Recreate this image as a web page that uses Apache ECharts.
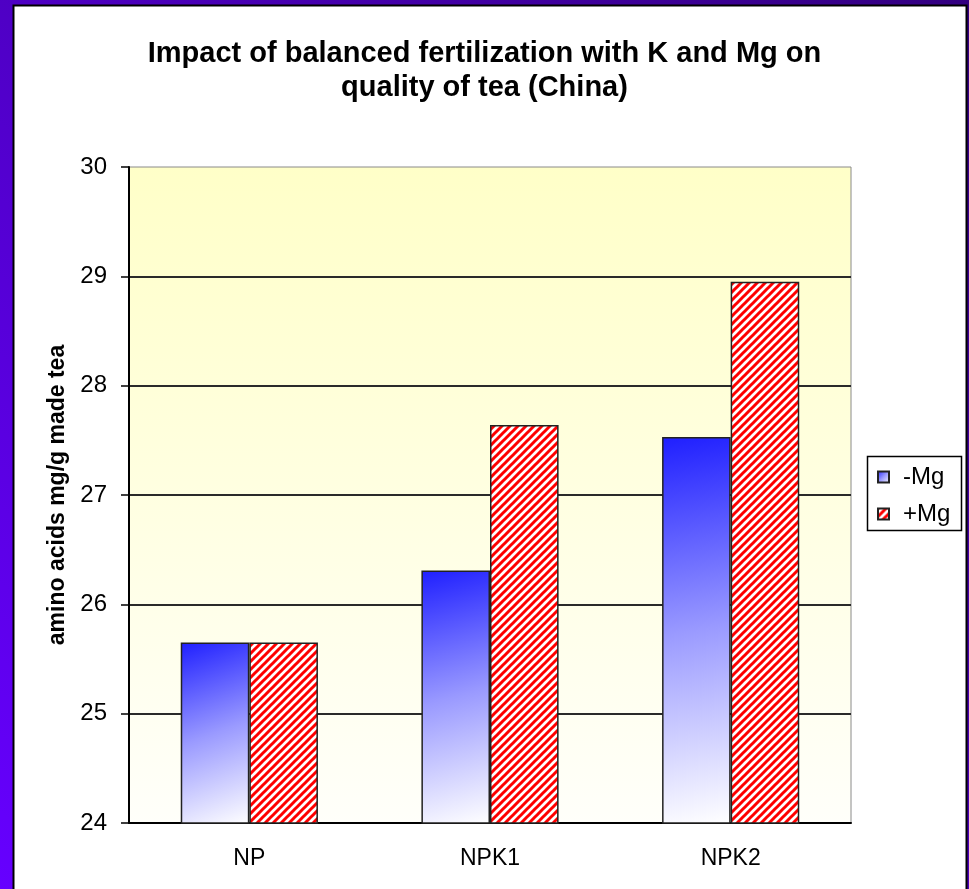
<!DOCTYPE html>
<html>
<head>
<meta charset="utf-8">
<script src="https://cdn.jsdelivr.net/npm/echarts@6/dist/echarts.min.js"></script>
<style>
  html, body { margin: 0; padding: 0; }
  #chart { width: 969px; height: 889px; }
</style>
</head>
<body>
<div id="chart"></div>
<script>
const categories = ['NP', 'NPK1', 'NPK2'];
const minusMg = [25.65, 26.31, 27.53];
const plusMg = [25.65, 27.64, 28.95];
const yTicks = [24, 25, 26, 27, 28, 29, 30];

const FONT = 'Liberation Sans, Arial, sans-serif';

// red/white diagonal stripes for the +Mg bars
const stripes = () => {
  const c = document.createElement('canvas');
  c.width = 8; c.height = 8;
  const ctx = c.getContext('2d');
  ctx.fillStyle = '#fff';
  ctx.fillRect(0, 0, 8, 8);
  ctx.strokeStyle = '#ff0000';
  ctx.lineWidth = 3;
  ctx.beginPath();
  ctx.moveTo(-4, 4); ctx.lineTo(4, -4);
  ctx.moveTo(0, 8); ctx.lineTo(8, 0);
  ctx.moveTo(4, 12); ctx.lineTo(12, 4);
  ctx.stroke();
  return c;
};

const blueFill = new echarts.graphic.LinearGradient(0, 0, 1, 1, [
  { offset: 0, color: '#1f1fff' },
  { offset: 0.5, color: '#9a9aff' },
  { offset: 1, color: '#ffffff' }
]);

const chart = echarts.init(document.getElementById('chart'));
chart.setOption({
  animation: false,
  backgroundColor: new echarts.graphic.LinearGradient(0, 1, 1, 0, [
    { offset: 0, color: '#6600ff' },
    { offset: 1, color: '#330080' }
  ]),
  graphic: [
    {
      type: 'rect', z: -10, silent: true,
      shape: { x: 13.5, y: 5.5, width: 953, height: 900 },
      style: { fill: '#ffffff', stroke: '#000', lineWidth: 2 }
    },
    {
      type: 'rect', z: 10, silent: true,
      shape: { x: 867.5, y: 456.5, width: 94, height: 74 },
      style: { fill: '#ffffff', stroke: '#000', lineWidth: 1.5 }
    }
  ],
  title: {
    text: 'Impact of balanced fertilization with K and Mg on\nquality of tea (China)',
    left: 'center',
    top: 32,
    textStyle: {
      fontFamily: FONT,
      fontSize: 29,
      fontWeight: 'bold',
      lineHeight: 34,
      color: '#000'
    }
  },
  legend: {
    orient: 'vertical',
    left: 872,
    top: 460,
    z: 20,
    icon: 'rect',
    itemWidth: 11,
    itemHeight: 11,
    itemGap: 13,
    textStyle: {
      fontFamily: FONT,
      fontSize: 24,
      color: '#000',
      padding: [0, 0, 0, 9]
    },
    data: ['-Mg', '+Mg']
  },
  grid: {
    left: 129, top: 167, right: 118, bottom: 66,
    show: true,
    borderColor: '#8a8a8a',
    borderWidth: 1,
    backgroundColor: new echarts.graphic.LinearGradient(0, 0, 0, 1, [
      { offset: 0, color: '#ffffc8' },
      { offset: 1, color: '#fffffa' }
    ])
  },
  xAxis: {
    type: 'category',
    data: categories,
    axisLine: { lineStyle: { color: '#000', width: 2 } },
    axisTick: { length: 8, lineStyle: { color: '#000', width: 1.5 } },
    axisLabel: {
      margin: 24,
      fontFamily: FONT,
      fontSize: 23,
      color: '#000'
    }
  },
  yAxis: {
    type: 'value',
    min: yTicks[0],
    max: yTicks[yTicks.length - 1],
    interval: 1,
    name: 'amino acids mg/g made tea',
    nameLocation: 'middle',
    nameGap: 58,
    nameTextStyle: {
      fontFamily: FONT,
      fontSize: 23,
      fontWeight: 'bold',
      color: '#000'
    },
    axisLine: { show: true, lineStyle: { color: '#000', width: 2 } },
    axisTick: { show: true, length: 8, lineStyle: { color: '#000', width: 1.5 } },
    axisLabel: {
      margin: 22,
      fontFamily: FONT,
      fontSize: 24,
      color: '#000'
    },
    splitLine: {
      showMaxLine: false,
      lineStyle: { color: '#2a2a2a', width: 2 }
    }
  },
  series: [
    {
      name: '-Mg',
      type: 'bar',
      data: minusMg,
      barGap: '0%',
      barCategoryGap: '43%',
      itemStyle: { color: blueFill, borderColor: '#222', borderWidth: 1.5 }
    },
    {
      name: '+Mg',
      type: 'bar',
      data: plusMg,
      itemStyle: { color: { image: stripes(), repeat: 'repeat' }, borderColor: '#222', borderWidth: 1.5 }
    }
  ]
});
</script>
</body>
</html>
